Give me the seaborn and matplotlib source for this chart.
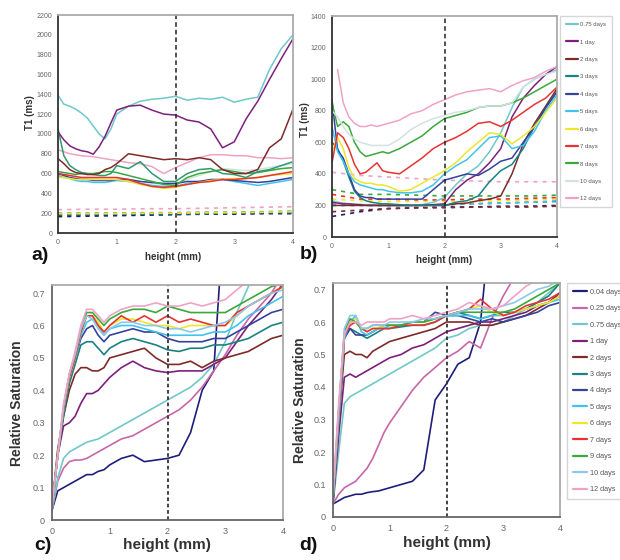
import numpy as np
import pandas as pd
import matplotlib
matplotlib.use("Agg")
import matplotlib.pyplot as plt
import seaborn as sns

sns.set_style("white")
plt.rcParams['font.family'] = ['Liberation Sans', 'DejaVu Sans']

# ---------------- data ----------------
X = [0, 0.1, 0.2, 0.3, 0.4, 0.5, 0.6, 0.7, 0.8, 0.9, 1.0, 1.2, 1.4, 1.6, 1.8,
     2.0, 2.2, 2.4, 2.6, 2.8, 3.0, 3.2, 3.4, 3.6, 3.8, 4.0]
XD = [0, 0.5, 1.0, 1.5, 2.0, 2.5, 3.0, 3.5, 4.0]

# panel a: T1 (ms), solid
a_075 = [1390, 1300, 1280, 1250, 1210, 1160, 1080, 1000, 950, 1050, 1200, 1280, 1330, 1350, 1360, 1380, 1340, 1360, 1350, 1370, 1320, 1350, 1370, 1650, 1860, 2000]
a_1 = [1020, 940, 880, 850, 830, 820, 795, 870, 975, 1110, 1240, 1280, 1290, 1240, 1200, 1190, 1140, 1120, 1050, 860, 920, 1150, 1330, 1550, 1760, 1960]
a_2 = [750, 700, 640, 610, 600, 590, 590, 600, 640, 660, 700, 800, 780, 760, 740, 750, 740, 760, 740, 640, 600, 600, 640, 860, 950, 1250]
a_3 = [1050, 780, 680, 640, 610, 600, 590, 580, 580, 600, 680, 650, 720, 600, 520, 520, 600, 640, 650, 600, 590, 560, 620, 640, 680, 720]
a_4 = [600, 580, 560, 550, 540, 540, 530, 530, 530, 530, 540, 540, 520, 510, 500, 500, 520, 520, 540, 540, 530, 520, 510, 520, 540, 560]
a_5 = [580, 560, 550, 530, 520, 520, 510, 510, 510, 520, 530, 520, 500, 480, 470, 470, 500, 520, 530, 540, 520, 500, 480, 500, 520, 540]
a_6 = [560, 560, 550, 540, 540, 540, 540, 540, 540, 540, 540, 520, 490, 470, 450, 460, 490, 510, 530, 540, 550, 550, 560, 580, 590, 600]
a_7 = [600, 590, 580, 570, 560, 560, 560, 560, 560, 560, 560, 540, 500, 470, 460, 470, 490, 510, 520, 540, 540, 550, 560, 580, 600, 620]
a_8 = [620, 610, 600, 590, 600, 600, 600, 610, 620, 620, 610, 580, 550, 520, 490, 480, 560, 600, 620, 640, 620, 600, 610, 630, 650, 660]
a_10 = [600, 590, 580, 570, 560, 560, 550, 540, 540, 540, 540, 540, 520, 500, 490, 500, 540, 580, 620, 650, 640, 630, 640, 660, 680, 700]
a_12 = [840, 820, 800, 790, 780, 775, 770, 760, 750, 740, 730, 710, 700, 670, 600, 660, 710, 760, 790, 790, 780, 780, 760, 760, 750, 760]
# panel a: dashed
a_d12 = [235, 240, 240, 245, 245, 250, 255, 260, 265]
a_d8 = [200, 200, 200, 205, 205, 210, 210, 215, 220]
a_d3 = [185, 185, 190, 190, 195, 195, 200, 205, 205]
a_d4 = [165, 170, 175, 180, 185, 190, 190, 195, 195]
a_d2 = [175, 178, 182, 186, 190, 195, 195, 200, 200]
a_d6 = [195, 195, 195, 200, 200, 205, 205, 210, 215]

# panel b: T1 (ms), solid
b_075 = [230, 220, 215, 210, 210, 205, 205, 205, 200, 200, 200, 200, 200, 205, 220, 250, 330, 400, 450, 540, 660, 820, 950, 1000, 1030, 1060]
b_1 = [220, 215, 210, 210, 205, 205, 200, 200, 200, 200, 200, 200, 200, 200, 205, 210, 300, 360, 400, 470, 560, 760, 880, 960, 1030, 1080]
b_2 = [200, 200, 200, 200, 200, 200, 200, 200, 200, 200, 200, 200, 200, 200, 200, 200, 210, 215, 230, 240, 260, 400, 590, 720, 830, 940]
b_3 = [600, 560, 480, 380, 290, 250, 230, 220, 215, 210, 210, 205, 200, 200, 200, 200, 220, 230, 260, 350, 420, 460, 560, 700, 820, 920]
b_4 = [870, 550, 500, 400, 300, 260, 250, 250, 240, 240, 240, 240, 240, 240, 300, 360, 380, 400, 390, 430, 480, 500, 600, 700, 820, 920]
b_5 = [700, 540, 480, 400, 350, 330, 320, 310, 300, 300, 290, 280, 280, 290, 330, 400, 450, 490, 560, 630, 640, 560, 580, 670, 800, 900]
b_6 = [540, 630, 560, 440, 370, 350, 340, 340, 330, 330, 320, 290, 300, 340, 380, 420, 470, 540, 600, 660, 650, 590, 640, 700, 790, 880]
b_7 = [470, 660, 630, 560, 460, 400, 410, 440, 470, 420, 410, 400, 450, 500, 560, 600, 630, 670, 720, 730, 700, 740, 790, 840, 880, 950]
b_8 = [850, 700, 730, 700, 600, 540, 510, 520, 530, 540, 530, 560, 600, 640, 700, 750, 770, 790, 820, 830, 830, 850, 880, 920, 960, 1000]
b_10 = [800, 760, 700, 650, 620, 600, 590, 580, 580, 580, 580, 620, 680, 720, 750, 770, 790, 800, 820, 830, 830, 850, 950, 1000, 1030, 1050]
b_12 = [np.nan, 1060, 850, 760, 720, 700, 700, 710, 700, 710, 720, 740, 780, 800, 840, 870, 900, 920, 930, 940, 920, 960, 990, 1010, 1050, 1080]
# panel b: dashed
b_d12 = [410, 390, 380, 370, 360, 355, 350, 350, 350]
b_d8 = [300, 270, 270, 265, 260, 260, 260, 260, 265]
b_d6 = [240, 230, 225, 225, 225, 225, 230, 235, 240]
b_d7 = [270, 240, 240, 235, 235, 240, 240, 245, 250]
b_d5 = [210, 205, 200, 200, 205, 210, 215, 220, 230]
b_d4 = [130, 160, 180, 185, 190, 190, 195, 195, 200]
b_d2 = [160, 170, 180, 185, 185, 190, 190, 190, 195]
b_d3 = [200, 200, 200, 200, 205, 210, 215, 220, 225]

# panel c: relative saturation
c_004 = [0.03, 0.09, 0.10, 0.11, 0.12, 0.13, 0.14, 0.14, 0.15, 0.155, 0.17, 0.19, 0.20, 0.18, 0.185, 0.19, 0.20, 0.27, 0.40, 0.46, 1.0, 1.2, 1.3, 1.4, 1.5, 1.6]
c_025 = [0.03, 0.12, 0.16, 0.18, 0.185, 0.185, 0.19, 0.20, 0.21, 0.22, 0.23, 0.25, 0.26, 0.28, 0.30, 0.32, 0.34, 0.37, 0.41, 0.46, 0.51, 0.57, 0.62, 0.66, 0.70, 0.76]
c_075 = [0.03, 0.13, 0.19, 0.21, 0.22, 0.23, 0.24, 0.245, 0.25, 0.26, 0.27, 0.29, 0.31, 0.33, 0.35, 0.37, 0.39, 0.41, 0.44, 0.48, 0.55, 0.64, 0.72, 0.78, 0.82, 0.85]
c_1 = [0.04, 0.20, 0.29, 0.30, 0.32, 0.36, 0.39, 0.39, 0.40, 0.42, 0.44, 0.47, 0.49, 0.47, 0.46, 0.455, 0.46, 0.46, 0.46, 0.48, 0.50, 0.55, 0.60, 0.64, 0.68, 0.73]
c_2 = [0.04, 0.22, 0.32, 0.40, 0.45, 0.47, 0.47, 0.46, 0.46, 0.47, 0.50, 0.51, 0.52, 0.53, 0.50, 0.48, 0.48, 0.49, 0.47, 0.49, 0.50, 0.51, 0.52, 0.54, 0.56, 0.57]
c_3 = [0.04, 0.20, 0.32, 0.42, 0.48, 0.54, 0.55, 0.55, 0.53, 0.51, 0.53, 0.55, 0.56, 0.55, 0.54, 0.525, 0.52, 0.53, 0.53, 0.54, 0.54, 0.55, 0.56, 0.58, 0.60, 0.61]
c_4 = [0.04, 0.20, 0.33, 0.44, 0.50, 0.56, 0.59, 0.60, 0.57, 0.55, 0.57, 0.58, 0.59, 0.58, 0.58, 0.56, 0.55, 0.55, 0.55, 0.56, 0.56, 0.58, 0.60, 0.62, 0.64, 0.65]
c_5 = [0.04, 0.20, 0.34, 0.44, 0.50, 0.57, 0.61, 0.62, 0.60, 0.57, 0.59, 0.60, 0.60, 0.59, 0.58, 0.57, 0.57, 0.57, 0.57, 0.58, 0.58, 0.60, 0.63, 0.65, 0.67, 0.69]
c_6 = [0.04, 0.20, 0.34, 0.44, 0.50, 0.58, 0.63, 0.63, 0.61, 0.58, 0.60, 0.62, 0.62, 0.61, 0.60, 0.60, 0.59, 0.60, 0.60, 0.60, 0.60, 0.63, 0.66, 0.68, 0.70, 0.72]
c_7 = [0.04, 0.20, 0.34, 0.44, 0.50, 0.58, 0.63, 0.63, 0.60, 0.58, 0.60, 0.63, 0.61, 0.63, 0.61, 0.63, 0.61, 0.62, 0.61, 0.60, 0.60, 0.64, 0.66, 0.68, 0.70, 0.72]
c_9 = [0.04, 0.20, 0.35, 0.45, 0.51, 0.59, 0.64, 0.64, 0.62, 0.60, 0.62, 0.64, 0.65, 0.65, 0.64, 0.66, 0.65, 0.64, 0.64, 0.64, 0.64, 0.66, 0.68, 0.70, 0.72, 0.73]
c_10 = [0.04, 0.20, 0.35, 0.45, 0.51, 0.59, 0.63, 0.62, 0.59, 0.57, 0.59, 0.61, 0.61, 0.60, 0.60, 0.59, 0.59, 0.58, 0.59, 0.60, 0.61, 0.63, 0.66, 0.68, 0.70, 0.71]
c_12 = [0.04, 0.20, 0.36, 0.45, 0.52, 0.60, 0.65, 0.65, 0.63, 0.61, 0.63, 0.65, 0.66, 0.66, 0.67, 0.66, 0.66, 0.67, 0.66, 0.67, 0.68, 0.71, 0.74, 0.77, 0.80, 0.82]

# panel d: relative saturation
d_004 = [0.04, 0.05, 0.06, 0.065, 0.07, 0.07, 0.075, 0.078, 0.08, 0.085, 0.09, 0.10, 0.11, 0.145, 0.36, 0.41, 0.47, 0.49, 0.60, 0.95, 1.1, 1.2, 1.3, 1.4, 1.5, 1.6]
d_025 = [0.04, 0.07, 0.09, 0.10, 0.11, 0.13, 0.15, 0.18, 0.22, 0.26, 0.29, 0.34, 0.39, 0.43, 0.46, 0.49, 0.51, 0.54, 0.52, 0.61, 0.68, 0.74, 0.78, 0.85, 0.90, 0.95]
d_075 = [0.04, 0.20, 0.35, 0.37, 0.38, 0.39, 0.40, 0.41, 0.42, 0.43, 0.44, 0.46, 0.48, 0.50, 0.52, 0.55, 0.56, 0.58, 0.59, 0.59, 0.60, 0.62, 0.64, 0.66, 0.69, 0.72]
d_1 = [0.04, 0.25, 0.43, 0.44, 0.43, 0.44, 0.45, 0.46, 0.47, 0.48, 0.49, 0.50, 0.52, 0.53, 0.55, 0.57, 0.58, 0.59, 0.60, 0.60, 0.61, 0.62, 0.63, 0.65, 0.66, 0.68]
d_2 = [0.05, 0.30, 0.50, 0.51, 0.50, 0.50, 0.49, 0.51, 0.52, 0.53, 0.54, 0.55, 0.56, 0.57, 0.58, 0.60, 0.60, 0.60, 0.59, 0.59, 0.60, 0.61, 0.62, 0.64, 0.66, 0.69]
d_3 = [0.05, 0.30, 0.55, 0.58, 0.57, 0.56, 0.55, 0.56, 0.57, 0.58, 0.58, 0.585, 0.59, 0.59, 0.60, 0.62, 0.63, 0.62, 0.61, 0.62, 0.63, 0.63, 0.64, 0.66, 0.68, 0.72]
d_4 = [0.05, 0.30, 0.55, 0.58, 0.56, 0.56, 0.56, 0.57, 0.58, 0.59, 0.59, 0.59, 0.60, 0.60, 0.63, 0.62, 0.62, 0.61, 0.60, 0.61, 0.60, 0.61, 0.62, 0.63, 0.65, 0.66]
d_5 = [0.05, 0.30, 0.55, 0.60, 0.62, 0.57, 0.56, 0.57, 0.58, 0.58, 0.59, 0.59, 0.60, 0.60, 0.61, 0.62, 0.62, 0.62, 0.61, 0.62, 0.62, 0.63, 0.64, 0.65, 0.66, 0.67]
d_6 = [0.06, 0.32, 0.56, 0.60, 0.61, 0.58, 0.57, 0.58, 0.58, 0.59, 0.59, 0.59, 0.60, 0.60, 0.61, 0.62, 0.63, 0.64, 0.65, 0.63, 0.62, 0.63, 0.64, 0.65, 0.66, 0.68]
d_7 = [0.06, 0.32, 0.56, 0.59, 0.60, 0.58, 0.57, 0.58, 0.58, 0.58, 0.58, 0.59, 0.59, 0.59, 0.60, 0.62, 0.63, 0.64, 0.67, 0.64, 0.62, 0.63, 0.65, 0.66, 0.67, 0.69]
d_9 = [0.06, 0.33, 0.57, 0.61, 0.60, 0.58, 0.58, 0.59, 0.59, 0.59, 0.59, 0.59, 0.60, 0.60, 0.61, 0.62, 0.63, 0.63, 0.63, 0.63, 0.63, 0.64, 0.66, 0.68, 0.70, 0.72]
d_10 = [0.06, 0.33, 0.58, 0.62, 0.62, 0.58, 0.58, 0.59, 0.59, 0.59, 0.60, 0.60, 0.60, 0.61, 0.61, 0.62, 0.63, 0.64, 0.64, 0.64, 0.65, 0.66, 0.68, 0.70, 0.71, 0.73]
d_12 = [0.07, 0.35, 0.56, 0.60, 0.60, 0.59, 0.60, 0.60, 0.60, 0.60, 0.61, 0.61, 0.62, 0.61, 0.62, 0.63, 0.64, 0.66, 0.65, 0.64, 0.65, 0.68, 0.71, 0.73, 0.75, 0.77]

labels_b = ["0.75 days", "1 day", "2 days", "3 days", "4 days", "5 days", "6 days",
            "7 days", "8 days", "10 days", "12 days"]
labels_d = ["0.04 days", "0.25 days", "0.75 days", "1 day", "2 days", "3 days", "4 days",
            "5 days", "6 days", "7 days", "9 days", "10 days", "12 days"]

# ---------------- colours ----------------
C = {
    "navy": "#1e1e7a", "mag": "#c866a8", "turq": "#70c8c8", "purple": "#7c207c",
    "maroon": "#7e2a2a", "teal": "#1a8282", "blue": "#34429c", "lblue": "#40c4ee",
    "yellow": "#eee52c", "red": "#e83232", "green": "#3aa83a", "pale": "#d2e2e2",
    "pblue": "#8cc8ee", "pink": "#f0a2c6", "sea": "#2e9a6e",
}

W, H = 620, 560
fig = plt.figure(figsize=(W / 100, H / 100), dpi=100)


def rect(x0, y0, x1, y1):
    return [x0 / W, 1 - y1 / H, (x1 - x0) / W, (y1 - y0) / H]


def line(ax, x, y, color, label=None, lw=1.1, ls="-"):
    sns.lineplot(x=x, y=y, color=color, lw=lw, linestyle=ls, label=label, ax=ax,
                 legend=False, estimator=None, sort=False)


def style(ax, ylim, yticks, ylabels, small=True):
    ax.set_xlim(0, 4)
    ax.set_ylim(*ylim)
    ax.set_xticks([0, 1, 2, 3, 4])
    ax.set_yticks(yticks)
    ax.set_yticklabels(ylabels)
    fs = 5 if small else 6.5
    ax.tick_params(axis="both", labelsize=fs, labelcolor="#666666", colors="#333333",
                   direction="inout" if small else "out", length=4 if small else 3,
                   width=0.8, pad=2)
    ax.tick_params(axis="both", labelcolor="#666666")
    for s in ["left", "bottom"]:
        ax.spines[s].set_color("#333333" if small else "#666666")
        ax.spines[s].set_linewidth(1.3)
    for s in ["top", "right"]:
        ax.spines[s].set_color("#aaaaaa")
        ax.spines[s].set_linewidth(1.3)
    ax.set_xlabel("")
    ax.set_ylabel("")


DASH = (0, (2.5, 3.0))

# ---------------- panel a ----------------
axa = fig.add_axes(rect(58, 15, 293, 233))
for ys, col in [(a_d2, C["maroon"]), (a_d4, C["navy"]), (a_d3, C["teal"]),
                (a_d8, C["green"]), (a_d6, C["yellow"]), (a_d12, C["pink"])]:
    line(axa, XD, ys, col, lw=1.2, ls=DASH)
for ys, col in [(a_10, C["pale"]), (a_12, C["pink"]), (a_5, C["lblue"]), (a_4, C["blue"]),
                (a_6, C["yellow"]), (a_8, C["green"]), (a_7, C["red"]), (a_3, C["sea"]),
                (a_2, C["maroon"]), (a_075, C["turq"]), (a_1, C["purple"])]:
    line(axa, X, ys, col)
axa.axvline(2, color="#222222", lw=1.1, ls=(0, (3, 2)))
style(axa, (0, 2200), list(range(0, 2201, 200)), [str(v) for v in range(0, 2201, 200)])

# ---------------- panel b ----------------
axb = fig.add_axes(rect(332, 16, 557, 237))
for ys, col in [(b_d4, C["navy"]), (b_d2, C["maroon"]), (b_d3, C["teal"]), (b_d5, C["lblue"]),
                (b_d6, C["yellow"]), (b_d7, C["red"]), (b_d8, C["green"]), (b_d12, C["pink"])]:
    line(axb, XD, ys, col, lw=1.2, ls=DASH)
b_series = [b_075, b_1, b_2, b_3, b_4, b_5, b_6, b_7, b_8, b_10, b_12]
b_cols = [C["turq"], C["purple"], C["maroon"], C["teal"], C["blue"], C["lblue"],
          C["yellow"], C["red"], C["green"], C["pale"], C["pink"]]
for ys, col, lab in zip(b_series, b_cols, labels_b):
    line(axb, X, ys, col, label=lab)
axb.axvline(2, color="#222222", lw=1.1, ls=(0, (3, 2)))
style(axb, (0, 1400), list(range(0, 1401, 200)), [str(v) for v in range(0, 1401, 200)])
h, l = axb.get_legend_handles_labels()
axb.legend(h, l, loc="upper left", bbox_to_anchor=(560 / W, 1 - 16 / H),
           bbox_transform=fig.transFigure, fontsize=4.3, frameon=True, fancybox=False,
           edgecolor="#cccccc", labelspacing=2.05, handlelength=2.0, handletextpad=0.4,
           borderpad=1.0, borderaxespad=0, labelcolor="#555555")

# ---------------- panel c ----------------
ticks_s = [0, 0.1, 0.2, 0.3, 0.4, 0.5, 0.6, 0.7]
tlabs_s = ["0", "0.1", "0.2", "0.3", "0.4", "0.5", "0.6", "0.7"]
sat_cols = [C["navy"], C["mag"], C["turq"], C["purple"], C["maroon"], C["teal"], C["blue"],
            C["lblue"], C["yellow"], C["red"], C["green"], C["pblue"], C["pink"]]
axc = fig.add_axes(rect(52, 285, 283, 520))
c_series = [c_004, c_025, c_075, c_1, c_2, c_3, c_4, c_5, c_6, c_7, c_9, c_10, c_12]
for ys, col in zip(c_series, sat_cols):
    line(axc, X, ys, col, lw=1.2)
axc.axvline(2, color="#333333", lw=1.3, ls=(0, (2, 1.5)))
style(axc, (0, 0.725), ticks_s, tlabs_s, small=False)

# ---------------- panel d ----------------
axd = fig.add_axes(rect(333, 283, 560, 517))
d_series = [d_004, d_025, d_075, d_1, d_2, d_3, d_4, d_5, d_6, d_7, d_9, d_10, d_12]
for ys, col, lab in zip(d_series, sat_cols, labels_d):
    line(axd, X, ys, col, label=lab, lw=1.2)
axd.axvline(2, color="#333333", lw=1.3, ls=(0, (2, 1.5)))
style(axd, (0, 0.72), ticks_s, tlabs_s, small=False)
h, l = axd.get_legend_handles_labels()
axd.legend(h, l, loc="upper left", bbox_to_anchor=(567 / W, 1 - 283 / H),
           bbox_transform=fig.transFigure, fontsize=5.2, frameon=True, fancybox=False,
           edgecolor="#cccccc", labelspacing=1.3, handlelength=2.0, handletextpad=0.4,
           borderpad=0.8, borderaxespad=0, labelcolor="#555555")
for lg in [axb.get_legend(), axd.get_legend()]:
    for ln in lg.get_lines():
        ln.set_linewidth(1.6)

# ---------------- labels ----------------
fig.text(30 / W, 1 - 113 / H, "T1 (ms)", rotation=90, ha="center", va="center",
         fontsize=7, fontweight="bold", color="#333333")
fig.text(173 / W, 1 - 257 / H, "height (mm)", ha="center", va="center",
         fontsize=7, fontweight="bold", color="#333333")
fig.text(305 / W, 1 - 120 / H, "T1 (ms)", rotation=90, ha="center", va="center",
         fontsize=7, fontweight="bold", color="#333333")
fig.text(444 / W, 1 - 260 / H, "height (mm)", ha="center", va="center",
         fontsize=7, fontweight="bold", color="#333333")
fig.text(17 / W, 1 - 403 / H, "Relative Saturation", rotation=90, ha="center", va="center",
         fontsize=10, fontweight="bold", color="#333333")
fig.text(167 / W, 1 - 545 / H, "height (mm)", ha="center", va="center",
         fontsize=11, fontweight="bold", color="#333333")
fig.text(300 / W, 1 - 400 / H, "Relative Saturation", rotation=90, ha="center", va="center",
         fontsize=10, fontweight="bold", color="#333333")
fig.text(447 / W, 1 - 543 / H, "height (mm)", ha="center", va="center",
         fontsize=11, fontweight="bold", color="#333333")
for txt, x, y in [("a)", 31, 256), ("b)", 300, 255), ("c)", 34, 546), ("d)", 299, 546)]:
    fig.text(x / W, 1 - y / H, txt, ha="left", va="center", fontsize=14,
             fontweight="bold", color="#111111")

fig.savefig("out.png", dpi=100)
